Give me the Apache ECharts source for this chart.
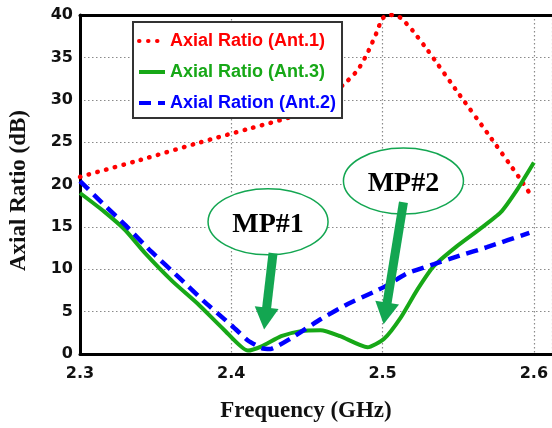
<!DOCTYPE html>
<html><head><meta charset="utf-8">
<script src="https://cdn.jsdelivr.net/npm/echarts@6/dist/echarts.min.js"></script>
<style>html,body{margin:0;padding:0;background:#fff}#c{width:552px;height:428px}</style>
</head><body><div id="c"></div>
<script>
// ---- data ----
const freqTicks = [2.3, 2.4, 2.5, 2.6];
const arTicks = [0, 5, 10, 15, 20, 25, 30, 35, 40];

const ant1Freq = [2.300, 2.340, 2.380, 2.410, 2.440, 2.455, 2.4743, 2.4836, 2.490, 2.496, 2.4995, 2.503, 2.508, 2.5125, 2.5197, 2.530, 2.550, 2.570, 2.590, 2.599];
const ant1AR   = [20.9, 22.9, 25.0, 26.5, 28.0, 29.3, 31.8, 33.5, 35.5, 37.9, 39.5, 40.0, 40.0, 39.6, 38.2, 35.8, 30.8, 25.9, 20.9, 18.5];

const ant3Freq = [2.300, 2.316, 2.330, 2.343, 2.361, 2.378, 2.395, 2.411, 2.420, 2.433, 2.446, 2.459, 2.472, 2.490, 2.501, 2.512, 2.523, 2.534, 2.549, 2.564, 2.578, 2.589, 2.600];
const ant3AR   = [19.0, 16.8, 14.6, 11.9, 8.6, 5.9, 2.9, 0.4, 0.9, 2.1, 2.7, 2.8, 2.1, 0.8, 1.8, 4.3, 7.6, 10.4, 12.7, 14.7, 16.7, 19.4, 22.6];

const ant2Freq = [2.300, 2.316, 2.330, 2.347, 2.365, 2.382, 2.400, 2.411, 2.420, 2.426, 2.439, 2.459, 2.477, 2.494, 2.503, 2.516, 2.534, 2.551, 2.569, 2.597];
const ant2AR   = [20.4, 17.6, 15.2, 12.1, 9.1, 6.2, 3.4, 1.6, 0.7, 0.6, 1.8, 4.1, 5.9, 7.3, 8.1, 9.5, 10.6, 11.6, 12.6, 14.3];

const seriesNames = ['Axial Ratio (Ant.1)', 'Axial Ratio (Ant.3)', 'Axial Ration (Ant.2)'];

// annotation anchors (data coordinates)
const noteLabels  = ['MP#1', 'MP#2'];
const noteCenters = [[2.4243, 15.6], [2.5138, 20.4]];
const noteTails   = [[2.4276, 11.9], [2.5138, 17.9]];
const noteTips    = [[2.4217, 2.9], [2.5007, 3.5]];

// ---- chart ----
const zip = (a, b) => a.map((v, i) => [v, b[i]]);
const chart = echarts.init(document.getElementById('c'), null, {renderer: 'canvas'});
const red = '#ff0000', green = '#17a817', blue = '#0000ff', noteGreen = '#13a651';
const tickFont = {fontFamily: 'DejaVu Sans', fontWeight: 'bold', fontSize: 16, color: '#111'};

chart.setOption({
  animation: false,
  backgroundColor: '#fff',
  grid: {left: 78, right: 0, top: 15, bottom: 73, containLabel: false},
  legend: {
    orient: 'vertical', left: 133, top: 22,
    padding: [10, 6, 6, 4], itemWidth: 26, itemHeight: 16, itemGap: 13,
    backgroundColor: '#fff', borderColor: '#333', borderWidth: 2,
    itemStyle: {opacity: 0},
    lineStyle: {width: 4},
    textStyle: {fontFamily: 'Liberation Sans', fontWeight: 'bold', fontSize: 18, lineHeight: 18},
    data: [
      {name: seriesNames[0], textStyle: {color: red}},
      {name: seriesNames[1], textStyle: {color: green}},
      {name: seriesNames[2], textStyle: {color: blue}}
    ]
  },
  xAxis: [{
    type: 'value', min: 2.3, max: 2.612, interval: 0.1,
    name: 'Frequency (GHz)', nameLocation: 'middle', nameGap: 46,
    nameTextStyle: {fontFamily: 'Liberation Serif', fontWeight: 'bold', fontSize: 23, color: '#111', padding: [0, 20, 0, 0]},
    axisLine: {show: true, onZero: false, lineStyle: {color: '#000', width: 3}},
    axisTick: {show: false},
    axisLabel: Object.assign({margin: 12, showMaxLabel: false,
      formatter: v => { const r = Math.round(v * 10) / 10; return freqTicks.some(t => Math.abs(t - v) < 1e-6) ? r.toFixed(1) : ''; }}, tickFont),
    splitLine: {show: true, lineStyle: {color: '#8a8a8a', width: 1.2, type: [1.5, 2.5]}}
  }, {
    type: 'value', min: 2.3, max: 2.612, position: 'top',
    axisLine: {show: true, onZero: false, lineStyle: {color: '#000', width: 3}},
    axisTick: {show: false}, axisLabel: {show: false}, splitLine: {show: false}
  }],
  yAxis: {
    type: 'value', min: arTicks[0], max: arTicks[arTicks.length - 1], interval: 5,
    name: 'Axial Ratio (dB)', nameLocation: 'middle', nameGap: 49,
    nameTextStyle: {fontFamily: 'Liberation Serif', fontWeight: 'bold', fontSize: 23, color: '#111', padding: [0, 12, 0, 0]},
    axisLine: {show: true, onZero: false, lineStyle: {color: '#000', width: 3}},
    axisTick: {show: false},
    axisLabel: Object.assign({margin: 7}, tickFont),
    splitLine: {show: true, lineStyle: {color: '#8a8a8a', width: 1.2, type: [1.5, 2.5]}}
  },
  series: [
    {name: seriesNames[0], type: 'line', data: zip(ant1Freq, ant1AR), symbol: 'none', smooth: 0.15,
     color: red, lineStyle: {color: red, width: 4.5, type: [0.5, 8.5], cap: 'round'}, z: 3},
    {name: seriesNames[1], type: 'line', data: zip(ant3Freq, ant3AR), symbol: 'none', smooth: 0.2,
     color: green, lineStyle: {color: green, width: 4}, z: 4},
    {name: seriesNames[2], type: 'line', data: zip(ant2Freq, ant2AR), symbol: 'none', smooth: 0.15,
     color: blue, lineStyle: {color: blue, width: 4.5, type: [12, 7]}, z: 5}
  ]
});

// annotations placed through the chart's own scales
const px = p => chart.convertToPixel({gridIndex: 0}, p);
const graphics = [];
noteLabels.forEach((lab, i) => {
  const c = px(noteCenters[i]);
  const t0 = px(noteTails[i]);
  const t1 = px(noteTips[i]);
  const dx = t1[0] - t0[0], dy = t1[1] - t0[1];
  const len = Math.hypot(dx, dy), ux = dx / len, uy = dy / len;
  const headLen = 22, headHalf = 12;
  const bx = t1[0] - ux * headLen, by = t1[1] - uy * headLen;
  graphics.push({type: 'ellipse', z: 100, shape: {cx: c[0], cy: c[1], rx: 60, ry: 33},
    style: {fill: '#fff', stroke: noteGreen, lineWidth: 1.5}});
  graphics.push({type: 'text', z: 101, x: c[0], y: c[1] + 3,
    style: {text: lab, fill: '#000', font: 'bold 28px "Liberation Serif"', align: 'center', verticalAlign: 'middle'}});
  graphics.push({type: 'line', z: 102, shape: {x1: t0[0], y1: t0[1], x2: bx + ux * 2, y2: by + uy * 2},
    style: {stroke: noteGreen, lineWidth: 9}});
  graphics.push({type: 'polygon', z: 102, shape: {points: [
    [t1[0], t1[1]], [bx - uy * headHalf, by + ux * headHalf], [bx + uy * headHalf, by - ux * headHalf]]},
    style: {fill: noteGreen}});
});
chart.setOption({graphic: graphics});
</script>
</body></html>
